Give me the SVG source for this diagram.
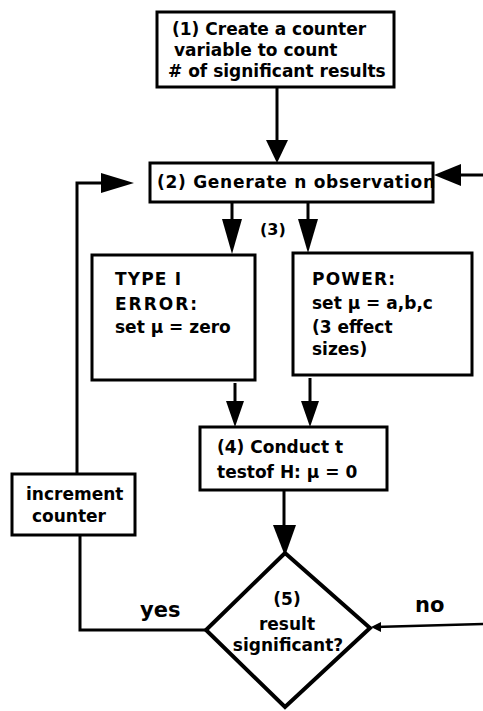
<svg xmlns="http://www.w3.org/2000/svg" width="483" height="711" viewBox="0 0 483 711">
<style>
  .box { fill: #fff; stroke: #000; stroke-width: 3; }
  .dia { fill: #fff; stroke: #000; stroke-width: 4; stroke-linejoin: miter; }
  .ln { fill: none; stroke: #000; stroke-width: 3; }
  .thin { fill: none; stroke: #000; stroke-width: 2.5; }
  .head { fill: #000; stroke: none; }
  text { font-family: "DejaVu Sans", "Liberation Sans", sans-serif; font-weight: bold; font-size: 17px; fill: #000; }
  .mid { text-anchor: middle; }
  .big { font-size: 21px; }
  .sm { font-size: 16px; }
</style>
<rect width="483" height="711" fill="#fff"/>

<g id="connectors">
  <line class="ln" x1="277" y1="87" x2="277" y2="144"/>
  <polygon class="head" points="266,140 288,140 277,163"/>
  <path class="ln" d="M206,630 H80 V535"/>
  <path class="ln" d="M77,474 V183 H105"/>
  <polygon class="head" points="101,173 101,193 134,183"/>
  <line class="ln" x1="483" y1="175" x2="458" y2="175"/>
  <polygon class="head" points="461,164 461,186 434,175"/>
  <line class="ln" x1="232" y1="202" x2="232" y2="222"/>
  <polygon class="head" points="222,219 242,219 232,254"/>
  <line class="ln" x1="308" y1="202" x2="308" y2="222"/>
  <polygon class="head" points="298,219 318,219 308,253"/>
  <line class="ln" x1="235" y1="383" x2="235" y2="405"/>
  <polygon class="head" points="226,401 244,401 235,427"/>
  <line class="ln" x1="310" y1="378" x2="310" y2="405"/>
  <polygon class="head" points="301,401 319,401 310,427"/>
  <line class="ln" x1="284" y1="490" x2="284" y2="528"/>
  <polygon class="head" points="273,525 296,525 285,556"/>
  <line class="thin" x1="483" y1="624" x2="375" y2="627"/>
  <polygon class="head" points="381,622 381,632 371,627"/>
</g>

<g id="n1">
  <rect class="box" x="157" y="12" width="237" height="75"/>
  <text x="172" y="35">(1) Create a counter</text>
  <text x="174" y="56">variable to count</text>
  <text x="168" y="77"># of significant results</text>
</g>

<g id="n2">
  <rect class="box" x="150" y="163" width="283" height="39"/>
  <text x="157" y="188" textLength="278" lengthAdjust="spacing">(2) Generate n observation</text>
</g>

<g id="label3">
  <text class="sm" x="260" y="235">(3)</text>
</g>

<g id="n3a">
  <rect class="box" x="92" y="255" width="163" height="125"/>
  <text x="115" y="285" textLength="66" lengthAdjust="spacing">TYPE I</text>
  <text x="115" y="310" textLength="82" lengthAdjust="spacing">ERROR:</text>
  <text x="115" y="333">set μ = zero</text>
</g>

<g id="n3b">
  <rect class="box" x="293" y="253" width="179" height="122"/>
  <text x="312" y="285" textLength="83" lengthAdjust="spacing">POWER:</text>
  <text x="312" y="309">set μ = a,b,c</text>
  <text x="312" y="333"> (3 effect</text>
  <text x="312" y="355">sizes)</text>
</g>

<g id="n4">
  <rect class="box" x="200" y="427" width="187" height="63"/>
  <text x="217" y="453">(4) Conduct t</text>
  <text x="217" y="478">testof H: μ = 0</text>
</g>

<g id="n5">
  <polygon class="dia" points="285,553 370,628 285,707 206,630"/>
  <text class="mid" x="287" y="605">(5)</text>
  <text class="mid" x="287" y="630">result</text>
  <text class="mid" x="288" y="651">significant?</text>
</g>

<g id="inc">
  <rect class="box" x="12" y="474" width="123" height="61"/>
  <text x="26" y="500">increment</text>
  <text x="32" y="522">counter</text>
</g>

<g id="labels">
  <text class="big" x="140" y="617">yes</text>
  <text class="big" x="415" y="612">no</text>
</g>
</svg>
